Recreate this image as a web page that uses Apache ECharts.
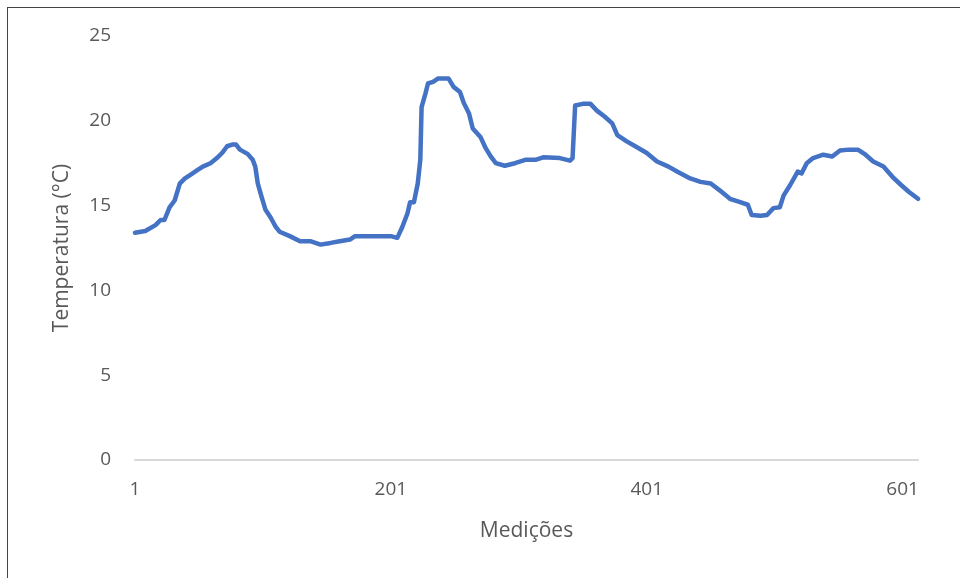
<!DOCTYPE html>
<html>
<head>
<meta charset="utf-8">
<script src="https://cdn.jsdelivr.net/npm/echarts@6/dist/echarts.min.js"></script>
<style>
html,body{margin:0;padding:0;background:#fff;}
#frame{position:absolute;left:7px;top:7px;width:1000px;height:700px;border-left:1.5px solid #444;border-top:1.5px solid #444;}
#chart{position:absolute;left:0;top:0;width:960px;height:578px;}
</style>
</head>
<body>
<div id="frame"></div>
<div id="chart"></div>
<script>
// Measurement index (Medições)
const medicoes = [1,9,17,21,24,28,32,36,40,44,50,54,60,65,69,73,77,80,83,89,93,95,97,100,103,107,111,114,122,130,138,146,154,161,169,173,185,193,201,206,210,214,216,219,222,224,225,228,230,234,238,246,250,255,258,262,265,271,275,279,283,290,298,306,314,320,333,341,343,345,351,357,362,368,374,378,385,392,401,409,418,425,435,443,451,458,466,474,480,483,490,495,500,505,508,513,519,522,526,531,539,546,552,559,566,572,578,586,593,600,606,613];
// Temperature (°C)
const temperatura = [13.4,13.5,13.85,14.15,14.15,14.9,15.3,16.3,16.6,16.8,17.1,17.3,17.5,17.8,18.1,18.5,18.6,18.6,18.3,18.05,17.7,17.3,16.3,15.5,14.75,14.3,13.75,13.46,13.2,12.9,12.9,12.7,12.8,12.9,13.0,13.2,13.2,13.2,13.2,13.1,13.75,14.55,15.2,15.2,16.3,17.7,20.8,21.6,22.2,22.3,22.5,22.5,22.0,21.7,21.05,20.45,19.55,19.05,18.4,17.9,17.5,17.35,17.5,17.7,17.7,17.85,17.8,17.65,17.8,20.9,21.0,21.0,20.6,20.25,19.85,19.15,18.8,18.5,18.1,17.6,17.3,17.0,16.6,16.4,16.3,15.9,15.4,15.2,15.05,14.45,14.4,14.45,14.85,14.9,15.6,16.2,17.0,16.9,17.5,17.8,18.0,17.9,18.25,18.3,18.3,18.0,17.6,17.3,16.7,16.2,15.8,15.4];
const xTicks = [1,201,401,601];
const yTicks = [0,5,10,15,20,25];

const chart = echarts.init(document.getElementById('chart'));
const font = '"Open Sans", "Noto Sans", sans-serif';
chart.setOption({
  animation:false,
  backgroundColor:'transparent',
  grid:{left:135,right:42,top:36,bottom:118,containLabel:false},
  xAxis:{
    type:'value', min:xTicks[0], max:613, interval:xTicks[1]-xTicks[0],
    name:'Medições', nameLocation:'middle', nameGap:61,
    nameTextStyle:{color:'#595959',fontSize:21,fontFamily:font},
    axisLine:{show:true,lineStyle:{color:'#D9D9D9',width:2}},
    axisTick:{show:false}, splitLine:{show:false},
    axisLabel:{color:'#595959',fontSize:19,fontFamily:font,margin:20,showMaxLabel:false}
  },
  yAxis:{
    type:'value', min:yTicks[0], max:yTicks[yTicks.length-1], interval:yTicks[1]-yTicks[0],
    name:'Temperatura (°C)', nameLocation:'middle', nameGap:62,
    nameTextStyle:{color:'#595959',fontSize:21,fontFamily:font},
    axisLine:{show:false}, axisTick:{show:false}, splitLine:{show:false},
    axisLabel:{color:'#595959',fontSize:19,fontFamily:font,margin:24}
  },
  series:[{
    type:'line', data:medicoes.map((m,i)=>[m,temperatura[i]]),
    showSymbol:false, symbol:'none',
    lineStyle:{color:'#4472C4',width:4.5,cap:'round',join:'round'}
  }]
});
</script>
</body>
</html>
